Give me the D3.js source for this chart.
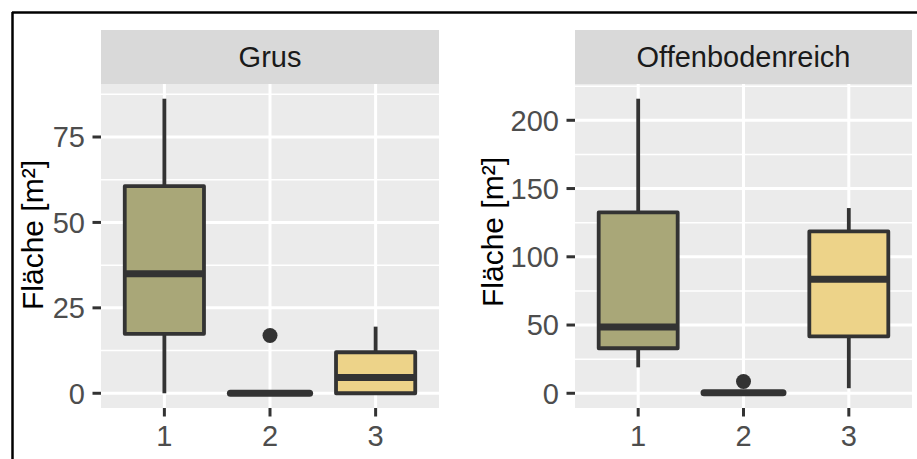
<!DOCTYPE html>
<html>
<head>
<meta charset="utf-8">
<script src="https://cdn.jsdelivr.net/npm/d3@7"></script>
<style>
  html, body { margin: 0; padding: 0; background: #fff; }
  svg { display: block; font-family: "Liberation Sans", Arial, sans-serif; }
</style>
</head>
<body>
<svg width="917" height="459"></svg>
<script>
const categories = ["1", "2", "3"];
const facets = ["Grus", "Offenbodenreich"];
const fills = ["#A9A778", "#A9A778", "#EDD389"];

// Grus: whisker low, q1, median, q3, whisker high
const grusLow = [0, 0, 0];
const grusQ1 = [17.4, 0, 0];
const grusMed = [35, 0, 4.6];
const grusQ3 = [60.6, 0, 12];
const grusHigh = [86.2, 0, 19.5];
const grusOut = [[], [16.9], []];
const grusTicks = [0, 25, 50, 75];

// Offenbodenreich
const offLow = [19, 0, 3.7];
const offQ1 = [33, 0, 41.7];
const offMed = [48.5, 0.3, 83.5];
const offQ3 = [132.5, 1, 118.6];
const offHigh = [215.8, 1.5, 135.7];
const offOut = [[], [8.6], []];
const offTicks = [0, 50, 100, 150, 200];

const yTitle = "Fläche [m²]";

const svg = d3.select("svg");

// outer frame (top and left edges only, as in the cropped source)
svg.append("line").attr("x1", 12).attr("x2", 917).attr("y1", 12.5).attr("y2", 12.5)
  .attr("stroke", "#000").attr("stroke-width", 2.5);
svg.append("line").attr("x1", 12.5).attr("x2", 12.5).attr("y1", 12).attr("y2", 459)
  .attr("stroke", "#000").attr("stroke-width", 2.5);

const panels = [
  { title: facets[0], left: 101, right: 439, titleX: 43, titleY: 235,
    low: grusLow, q1: grusQ1, med: grusMed, q3: grusQ3, high: grusHigh, out: grusOut, ticks: grusTicks },
  { title: facets[1], left: 575, right: 912, titleX: 503, titleY: 232,
    low: offLow, q1: offQ1, med: offMed, q3: offQ3, high: offHigh, out: offOut, ticks: offTicks }
];

const stripTop = 30, panelTop = 84, panelBottom = 408;
const fontSize = 29;
const ink = "#333333";

panels.forEach(p => {
  const g = svg.append("g");

  const allVals = p.low.concat(p.high, p.out.flat());
  const lo = d3.min(allVals), hi = d3.max(allVals);
  const pad = (hi - lo) * 0.05;
  const y = d3.scaleLinear().domain([lo - pad, hi + pad]).range([panelBottom, panelTop]);
  const x = d3.scalePoint().domain(categories).range([p.left, p.right]).padding(0.6);
  const bw = x.step() * 0.75;

  // strip
  g.append("rect").attr("x", p.left).attr("y", stripTop)
    .attr("width", p.right - p.left).attr("height", panelTop - stripTop).attr("fill", "#D9D9D9");
  g.append("text").attr("x", (p.left + p.right) / 2).attr("y", (stripTop + panelTop) / 2)
    .attr("dy", "0.36em").attr("text-anchor", "middle")
    .attr("font-size", fontSize).attr("fill", "#1A1A1A").text(p.title);

  // panel background
  g.append("rect").attr("x", p.left).attr("y", panelTop)
    .attr("width", p.right - p.left).attr("height", panelBottom - panelTop).attr("fill", "#EBEBEB");

  // minor grid
  const step = p.ticks[1] - p.ticks[0];
  const minor = d3.range(p.ticks[0] - step / 2, hi + pad, step)
    .filter(v => v > lo - pad && v < hi + pad);
  g.selectAll(".minor").data(minor).enter().append("line")
    .attr("x1", p.left).attr("x2", p.right)
    .attr("y1", d => y(d)).attr("y2", d => y(d))
    .attr("stroke", "#fff").attr("stroke-width", 1.5);

  // major grid
  g.selectAll(".majorY").data(p.ticks).enter().append("line")
    .attr("x1", p.left).attr("x2", p.right)
    .attr("y1", d => y(d)).attr("y2", d => y(d))
    .attr("stroke", "#fff").attr("stroke-width", 3);
  g.selectAll(".majorX").data(categories).enter().append("line")
    .attr("x1", d => x(d)).attr("x2", d => x(d))
    .attr("y1", panelTop).attr("y2", panelBottom)
    .attr("stroke", "#fff").attr("stroke-width", 3);

  // boxes
  categories.forEach((c, i) => {
    const cx = x(c);
    const bg = g.append("g");
    bg.append("line").attr("x1", cx).attr("x2", cx)
      .attr("y1", y(p.q3[i])).attr("y2", y(p.high[i]))
      .attr("stroke", ink).attr("stroke-width", 3.8);
    bg.append("line").attr("x1", cx).attr("x2", cx)
      .attr("y1", y(p.q1[i])).attr("y2", y(p.low[i]))
      .attr("stroke", ink).attr("stroke-width", 3.8);
    bg.append("rect").attr("x", cx - bw / 2).attr("width", bw)
      .attr("y", y(p.q3[i])).attr("height", Math.max(0, y(p.q1[i]) - y(p.q3[i])))
      .attr("fill", fills[i]).attr("stroke", ink).attr("stroke-width", 3.8)
      .attr("stroke-linejoin", "round");
    bg.append("line").attr("x1", cx - bw / 2).attr("x2", cx + bw / 2)
      .attr("y1", y(p.med[i])).attr("y2", y(p.med[i]))
      .attr("stroke", ink).attr("stroke-width", 7)
      .attr("stroke-linecap", y(p.q1[i]) - y(p.q3[i]) < 4 ? "round" : "butt");
    p.out[i].forEach(v => {
      bg.append("circle").attr("cx", cx).attr("cy", y(v)).attr("r", 7.5).attr("fill", ink);
    });
  });

  // y axis ticks + labels
  p.ticks.forEach(t => {
    g.append("line").attr("x1", p.left - 8.5).attr("x2", p.left)
      .attr("y1", y(t)).attr("y2", y(t)).attr("stroke", ink).attr("stroke-width", 3);
    g.append("text").attr("x", p.left - 16).attr("y", y(t)).attr("dy", "0.36em")
      .attr("text-anchor", "end").attr("font-size", fontSize).attr("fill", "#4D4D4D").text(t);
  });

  // x axis ticks + labels
  categories.forEach(c => {
    g.append("line").attr("x1", x(c)).attr("x2", x(c))
      .attr("y1", panelBottom).attr("y2", panelBottom + 8.5).attr("stroke", ink).attr("stroke-width", 3);
    g.append("text").attr("x", x(c)).attr("y", 446)
      .attr("text-anchor", "middle").attr("font-size", fontSize).attr("fill", "#4D4D4D").text(c);
  });

  // y title
  g.append("text").attr("transform", `translate(${p.titleX},${p.titleY}) rotate(-90)`)
    .attr("text-anchor", "middle").attr("font-size", 30).attr("fill", "#000").text(yTitle);
});
</script>
</body>
</html>
